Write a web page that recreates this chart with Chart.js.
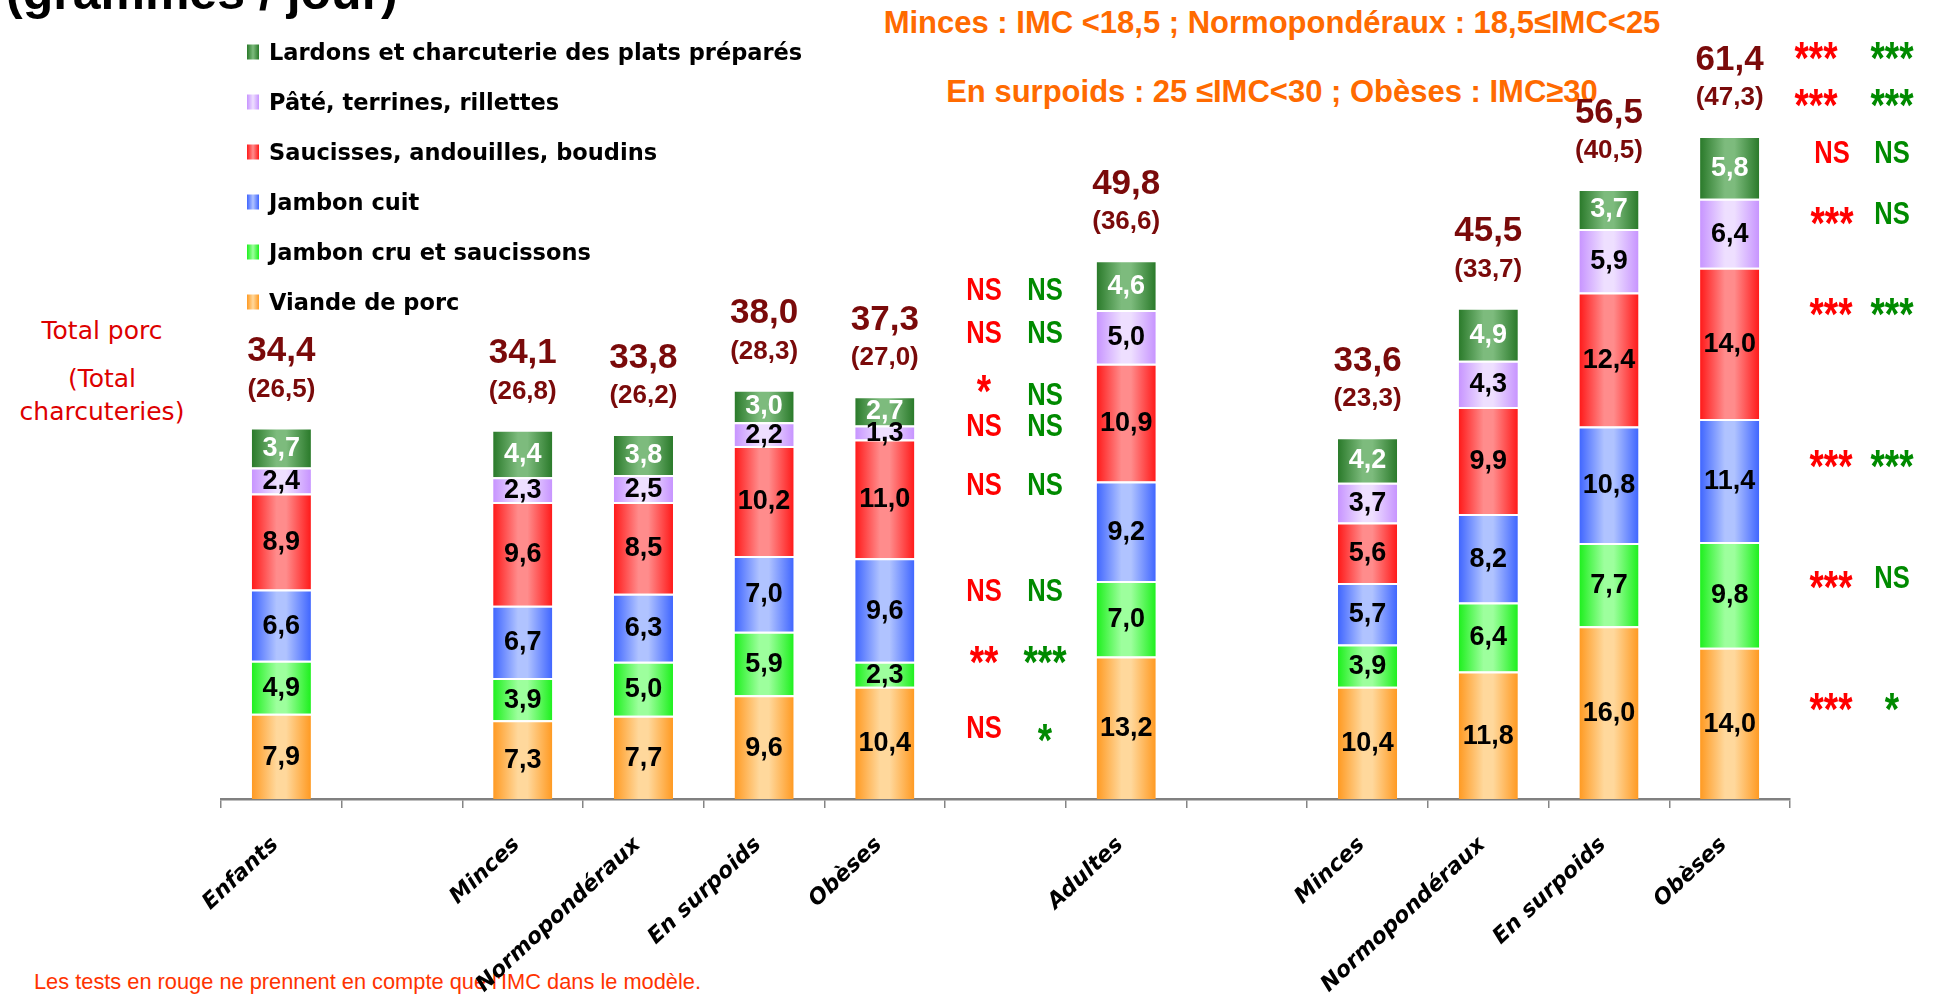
<!DOCTYPE html>
<html lang="fr">
<head>
<meta charset="utf-8">
<title>Porc et charcuteries selon l'IMC</title>
<script src="https://cdn.jsdelivr.net/npm/chart.js@4.4.1/dist/chart.umd.min.js"></script>
<style>
  html, body { margin: 0; padding: 0; background: #fff; overflow: hidden; }
  #page { position: relative; width: 1936px; height: 997px; overflow: hidden; }
  #chart { position: absolute; left: 0; top: 0; z-index: 2; }
  .t { position: absolute; white-space: nowrap; line-height: 1; z-index: 1; }
  .c { transform: translate(-50%, -50%); }
  .title { font: bold 50px "Liberation Sans", Arial, sans-serif; color: #000; }
  .imc { font: bold 31px "Liberation Sans", Arial, sans-serif; color: #ff6a00; }
  .porc { font: 25px "DejaVu Sans", sans-serif; color: #dd0000; }
  .note { font: 21.8px "Liberation Sans", Arial, sans-serif; color: #ff3300; }
  .leg { font: bold 22.5px "DejaVu Sans", sans-serif; color: #000; transform: translateY(-50%); z-index: 3; }
  .box { position: absolute; width: 12px; height: 15px; transform: translateY(-50%); z-index: 3; }
  .sig { font: bold 32px "Liberation Sans", Arial, sans-serif; z-index: 3; }
  .sig.c { transform: translate(-50%, -50%) scaleX(0.8); }
  .sig.star { font-size: 46px; transform: translate(-50%, calc(-50% + 0.21em)) scaleX(0.8); }
  .red { color: #ff0000; }
  .green { color: #008a00; }
</style>
</head>
<body>
<div id="page">
  <canvas id="chart" width="1936" height="997"></canvas>
</div>

<script>
// Data

const categories = ["Enfants", "", "Minces", "Normopondéraux", "En surpoids", "Obèses", "",
  "Adultes", "", "Minces", "Normopondéraux", "En surpoids", "Obèses"];

const seriesNames = ["Viande de porc", "Jambon cru et saucissons", "Jambon cuit",
  "Saucisses, andouilles, boudins", "Pâté, terrines, rillettes",
  "Lardons et charcuterie des plats préparés"];

const viandePorc = [7.9, null, 7.3, 7.7, 9.6, 10.4, null, 13.2, null, 10.4, 11.8, 16.0, 14.0];
const jambonCru  = [4.9, null, 3.9, 5.0, 5.9, 2.3, null, 7.0, null, 3.9, 6.4, 7.7, 9.8];
const jambonCuit = [6.6, null, 6.7, 6.3, 7.0, 9.6, null, 9.2, null, 5.7, 8.2, 10.8, 11.4];
const saucisses  = [8.9, null, 9.6, 8.5, 10.2, 11.0, null, 10.9, null, 5.6, 9.9, 12.4, 14.0];
const pates      = [2.4, null, 2.3, 2.5, 2.2, 1.3, null, 5.0, null, 3.7, 4.3, 5.9, 6.4];
const lardons    = [3.7, null, 4.4, 3.8, 3.0, 2.7, null, 4.6, null, 4.2, 4.9, 3.7, 5.8];

const totalPorc    = [34.4, null, 34.1, 33.8, 38.0, 37.3, null, 49.8, null, 33.6, 45.5, 56.5, 61.4];
const totalCharcut = [26.5, null, 26.8, 26.2, 28.3, 27.0, null, 36.6, null, 23.3, 33.7, 40.5, 47.3];

// significance tests : [IMC only (red), full model (green)]
const sigEnfants = [["NS", "NS"], ["NS", "NS"], ["*", "NS"], ["NS", "NS"],
  ["NS", "NS"], ["NS", "NS"], ["**", "***"], ["NS", "*"]];
const sigAdultes = [["***", "***"], ["***", "***"], ["NS", "NS"], ["***", "NS"],
  ["***", "***"], ["***", "***"], ["***", "NS"], ["***", "*"]];

// Styles

const palette = [
  { edge: "#ff9a22", mid: "#ffd89c", text: "#000" },
  { edge: "#1ef01e", mid: "#9dff9d", text: "#000" },
  { edge: "#4066ff", mid: "#b0c3ff", text: "#000" },
  { edge: "#ff1a1a", mid: "#ff8c8c", text: "#000" },
  { edge: "#c794ff", mid: "#eedfff", text: "#000" },
  { edge: "#2a7a2a", mid: "#7dbb7d", text: "#fff" }
];

const barPct = 0.49;

// rows of the significance columns (pixel positions)
const sigEnfantsPos = [[289, 289], [332, 332], [381, 394], [425, 425],
  [484, 484], [590, 590], [652, 652], [727, 730]];
const sigAdultesPos = [[48, 48], [95, 95], [152, 152], [213, 213],
  [304, 304], [456, 456], [577, 577], [699, 699]];
const sigAdultesRedX = [1816, 1816, 1832, 1832, 1831, 1831, 1831, 1831];

const fmt = v => v.toFixed(1).replace(".", ",");

// Gradient fill for each bar

function barFill(di) {
  return ctx => {
    const p = palette[di];
    const xs = ctx.chart.scales.x;
    if (ctx.type !== "data" || !xs) return p.edge;
    const cx = xs.getPixelForValue(ctx.dataIndex);
    const half = (xs.getPixelForValue(1) - xs.getPixelForValue(0)) * barPct / 2;
    if (!isFinite(cx) || !isFinite(half) || half <= 0) return p.edge;
    const g = ctx.chart.ctx.createLinearGradient(cx - half, 0, cx + half, 0);
    g.addColorStop(0, p.edge);
    g.addColorStop(0.42, p.mid);
    g.addColorStop(0.58, p.mid);
    g.addColorStop(1, p.edge);
    return g;
  };
}

// Value labels

const valueLabels = {
  id: "valueLabels",
  afterDatasetsDraw(chart) {
    const c = chart.ctx;
    c.save();
    c.textAlign = "center";
    c.textBaseline = "middle";

    chart.data.datasets.forEach((ds, di) => {
      const meta = chart.getDatasetMeta(di);
      c.font = 'bold 27px "Liberation Sans", Arial, sans-serif';
      c.fillStyle = palette[di].text;
      meta.data.forEach((bar, i) => {
        const v = ds.data[i];
        if (v == null) return;
        c.fillText(fmt(v), bar.x, (bar.y + bar.base) / 2 + 1);
      });
    });

    const topMeta = chart.getDatasetMeta(chart.data.datasets.length - 1);
    c.fillStyle = "#7a0a0a";
    totalPorc.forEach((t, i) => {
      if (t == null) return;
      const bar = topMeta.data[i];
      c.font = 'bold 35px "Liberation Sans", Arial, sans-serif';
      c.fillText(fmt(t), bar.x, bar.y - 76);
      c.font = 'bold 26px "Liberation Sans", Arial, sans-serif';
      c.fillText("(" + fmt(totalCharcut[i]) + ")", bar.x, bar.y - 38);
    });
    c.restore();
  }
};

// Chart

const series = [viandePorc, jambonCru, jambonCuit, saucisses, pates, lardons];

const chart = new Chart(document.getElementById("chart"), {
  type: "bar",
  data: {
    labels: categories,
    datasets: series.map((d, di) => ({
      label: seriesNames[di],
      data: d,
      backgroundColor: barFill(di),
      borderColor: "rgba(255,255,255,0.95)",
      borderWidth: { top: 2, left: 0, right: 0, bottom: 0 },
      borderSkipped: false,
      categoryPercentage: 1,
      barPercentage: barPct
    }))
  },
  options: {
    responsive: false,
    devicePixelRatio: 1,
    animation: false,
    layout: { padding: { left: 221, right: 146, top: 0, bottom: 0 } },
    plugins: {
      legend: { display: false },
      tooltip: { enabled: false }
    },
    scales: {
      y: {
        stacked: true,
        display: false,
        min: 0,
        max: 74
      },
      x: {
        stacked: true,
        grid: {
          drawOnChartArea: false,
          tickLength: 9,
          color: "#858585",
          lineWidth: 1.5,
          offset: true
        },
        border: { color: "#808080", width: 2.5 },
        ticks: {
          autoSkip: false,
          minRotation: 43,
          maxRotation: 43,
          padding: 24,
          labelOffset: -6,
          color: "#000",
          font: { family: "DejaVu Sans", size: 22, style: "italic", weight: "bold" }
        },
        afterFit(scale) {
          scale.height = 198;
        }
      }
    }
  },
  plugins: [valueLabels]
});

// Texts around the chart

const page = document.getElementById("page");

function addText(text, cls, x, y) {
  const el = document.createElement("div");
  el.className = "t " + cls;
  el.textContent = text;
  el.style.left = x + "px";
  el.style.top = y + "px";
  page.appendChild(el);
  return el;
}

addText("(grammes / jour)", "title", 6, -37);
addText("Minces : IMC <18,5 ; Normopondéraux : 18,5≤IMC<25", "imc c", 1272, 23);
addText("En surpoids : 25 ≤IMC<30 ; Obèses : IMC≥30", "imc c", 1272, 92);
addText("Total porc", "porc c", 102, 330);
addText("(Total", "porc c", 102, 378);
addText("charcuteries)", "porc c", 102, 411);
addText("Les tests en rouge ne prennent en compte que l'IMC dans le modèle.", "note", 34, 969);

// Legend, built from the datasets (top item = last dataset)
chart.data.datasets.slice().reverse().forEach((ds, k) => {
  const p = palette[chart.data.datasets.length - 1 - k];
  const y = 52 + k * 50;
  const box = document.createElement("div");
  box.className = "box";
  box.style.left = "247px";
  box.style.top = y + "px";
  box.style.background = "linear-gradient(90deg, " + p.edge + ", " + p.mid + " 50%, " + p.edge + ")";
  page.appendChild(box);
  addText(ds.label, "leg", 269, y);
});

// Significance columns
function addSig(list, pos, redX, greenX) {
  list.forEach((pair, r) => {
    const rx = Array.isArray(redX) ? redX[r] : redX;
    addText(pair[0], "sig red c" + (pair[0].includes("*") ? " star" : ""), rx, pos[r][0]);
    addText(pair[1], "sig green c" + (pair[1].includes("*") ? " star" : ""), greenX, pos[r][1]);
  });
}
addSig(sigEnfants, sigEnfantsPos, 984, 1045);
addSig(sigAdultes, sigAdultesPos, sigAdultesRedX, 1892);
</script>
</body>
</html>
